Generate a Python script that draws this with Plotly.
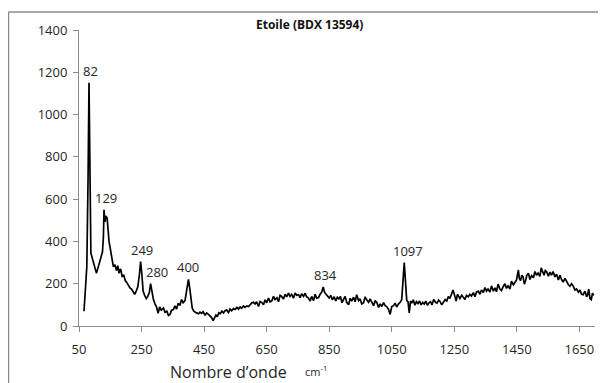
import plotly.graph_objects as go

# ---- data ----
wavenumber = [
    66, 75, 79, 82, 88, 92, 96, 101, 106, 111, 117, 121, 125, 128, 130, 133, 136, 140, 143, 146,
    149, 152, 155, 160, 165, 170, 174, 178, 183, 188, 193, 198, 203, 208, 213, 218, 223, 228, 233, 238,
    243, 247, 251, 255, 260, 265, 270, 275, 279, 283, 288, 293, 298, 303, 308, 313, 320, 325, 331, 336,
    341, 346, 352, 357, 362, 367, 373, 378, 383, 389, 393, 397, 400, 404, 408, 412, 417, 421, 426, 432,
    437, 442, 447, 453, 458, 464, 469, 474, 479, 483, 488, 492, 497, 501, 507, 512, 517, 522, 528, 533,
    538, 544, 549, 555, 560, 565, 570, 576, 581, 587, 592, 597, 603, 608, 613, 618, 624, 629, 634, 640,
    645, 650, 656, 661, 667, 672, 677, 683, 688, 693, 698, 704, 709, 714, 720, 725, 730, 736, 741, 746,
    752, 757, 762, 768, 773, 778, 784, 789, 794, 800, 805, 810, 816, 821, 826, 831, 835, 840, 845, 850,
    855, 860, 866, 871, 876, 881, 886, 891, 896, 901, 906, 912, 917, 922, 928, 933, 938, 944, 949, 954,
    960, 965, 970, 976, 981, 986, 992, 997, 1002, 1008, 1013, 1018, 1024, 1029, 1034, 1040, 1045, 1050, 1056, 1061,
    1066, 1072, 1077, 1082, 1086, 1090, 1094, 1098, 1102, 1106, 1110, 1114, 1119, 1124, 1129, 1134, 1139, 1144, 1149, 1154,
    1159, 1164, 1169, 1174, 1179, 1184, 1190, 1195, 1200, 1205, 1210, 1216, 1221, 1226, 1231, 1236, 1241, 1246, 1252, 1256,
    1260, 1264, 1268, 1274, 1279, 1284, 1289, 1295, 1300, 1305, 1311, 1316, 1321, 1327, 1332, 1337, 1343, 1348, 1353, 1358,
    1364, 1369, 1375, 1380, 1385, 1390, 1396, 1401, 1407, 1412, 1417, 1422, 1428, 1433, 1439, 1444, 1449, 1455, 1458, 1462,
    1466, 1470, 1474, 1478, 1482, 1487, 1492, 1497, 1503, 1508, 1513, 1518, 1524, 1528, 1533, 1537, 1541, 1546, 1551, 1556,
    1561, 1566, 1572, 1577, 1583, 1588, 1593, 1598, 1604, 1609, 1615, 1620, 1625, 1630, 1636, 1641, 1647, 1652, 1657, 1662,
    1668, 1673, 1676, 1680, 1684, 1688, 1692, 1696, 1700,
]
intensity = [
    70, 280, 700, 1150, 345, 320, 305, 275, 250, 280, 312, 330, 350, 420, 550, 493, 520, 510, 420, 400,
    375, 345, 330, 280, 290, 262, 285, 250, 270, 235, 240, 215, 205, 190, 180, 175, 165, 150, 165, 185,
    240, 305, 245, 165, 145, 130, 140, 160, 200, 165, 125, 105, 90, 60, 90, 75, 85, 65, 70, 50,
    55, 75, 78, 95, 80, 105, 100, 125, 110, 120, 150, 195, 220, 180, 120, 85, 70, 68, 62, 58,
    66, 60, 68, 50, 62, 55, 48, 40, 25, 35, 52, 44, 62, 58, 70, 62, 72, 76, 64, 80,
    72, 82, 78, 88, 80, 90, 84, 95, 88, 95, 92, 100, 110, 112, 104, 115, 92, 116, 112, 100,
    124, 110, 132, 114, 120, 140, 125, 134, 115, 145, 140, 128, 150, 138, 156, 140, 150, 132, 156, 145,
    148, 134, 152, 140, 155, 138, 132, 118, 140, 120, 150, 132, 135, 150, 160, 185, 160, 150, 138, 132,
    145, 124, 138, 118, 136, 128, 140, 110, 126, 140, 112, 100, 131, 118, 136, 115, 148, 120, 128, 104,
    110, 138, 124, 112, 128, 110, 96, 118, 112, 88, 105, 92, 110, 96, 92, 78, 55, 92, 96, 108,
    90, 105, 112, 125, 205, 300, 210, 120, 115, 62, 118, 108, 124, 98, 115, 106, 118, 100, 112, 104,
    118, 98, 110, 115, 100, 126, 112, 108, 122, 115, 100, 112, 125, 118, 140, 130, 148, 170, 140, 118,
    150, 142, 130, 145, 135, 125, 145, 138, 150, 142, 158, 138, 160, 165, 150, 170, 158, 182, 165, 175,
    160, 190, 165, 180, 162, 198, 175, 168, 188, 200, 178, 190, 175, 212, 195, 205, 218, 265, 225, 215,
    240, 232, 198, 215, 240, 250, 220, 238, 228, 258, 240, 250, 235, 275, 252, 240, 262, 255, 235, 255,
    240, 258, 232, 245, 218, 240, 220, 208, 225, 210, 195, 188, 200, 190, 170, 175, 160, 170, 150, 148,
    165, 138, 145, 175, 130, 125, 155, 145,
]
peak_labels = ["82", "129", "249", "280", "400", "834", "1097"]
peak_label_shift = [1, 2, 1, 6, 0, 2, 4]

x_ticks = [50, 250, 450, 650, 850, 1050, 1250, 1450, 1650]
y_ticks = [0, 200, 400, 600, 800, 1000, 1200, 1400]

chart_title = "Etoile (BDX 13594)"
x_title = "Nombre d’onde"
x_unit = "cm<sup>-1</sup>"

# ---- layout constants (pixels) ----
# the page body has an 8px margin, so the figure starts at (8, 8) in the window
OFF = 8
W, H = 606 - OFF, 383 - OFF
L, R, T, B = 79 - OFF, 11, 30 - OFF, 57
PW, PH = W - L - R, H - T - B
FONT = "Open Sans, Liberation Sans, sans-serif"
TXT = "#262626"
AX = "#8c8c8c"


def px_to_paper_x(px):
    # px is a window x-coordinate
    return (px - OFF - L) / PW


def py_to_paper_y(py):
    # py is a window y-coordinate
    return (H - B - (py - OFF)) / PH


fig = go.Figure()
fig.add_trace(go.Scatter(
    x=wavenumber, y=intensity, mode="lines",
    line=dict(color="black", width=1.7), showlegend=False,
))

annotations = []
for lab, dx in zip(peak_labels, peak_label_shift):
    target = float(lab)
    near = [(abs(w - target), w, v) for w, v in zip(wavenumber, intensity) if abs(w - target) <= 12]
    best = max(near, key=lambda t: t[2])
    annotations.append(dict(
        x=best[1], y=best[2], xref="x", yref="y", text=lab, showarrow=False,
        yanchor="bottom", xanchor="center", xshift=dx, yshift=1,
        font=dict(family=FONT, size=13, color=TXT),
    ))

annotations.append(dict(
    x=px_to_paper_x(309), y=py_to_paper_y(24), xref="paper", yref="paper",
    text="<b>" + chart_title + "</b>", showarrow=False, xanchor="center", yanchor="middle",
    font=dict(family=FONT, size=12, color="#111"),
))
annotations.append(dict(
    x=px_to_paper_x(228), y=py_to_paper_y(372), xref="paper", yref="paper",
    text=x_title, showarrow=False, xanchor="center", yanchor="middle",
    font=dict(family=FONT, size=16, color=TXT),
))
annotations.append(dict(
    x=px_to_paper_x(303), y=py_to_paper_y(371), xref="paper", yref="paper",
    text=x_unit, showarrow=False, xanchor="left", yanchor="middle",
    font=dict(family=FONT, size=11, color=TXT),
))

shapes = [
    dict(type="line", xref="paper", yref="paper",
         x0=px_to_paper_x(8.5), x1=px_to_paper_x(606), y0=py_to_paper_y(12), y1=py_to_paper_y(12),
         line=dict(color="#8a8a8a", width=1.5)),
    dict(type="line", xref="paper", yref="paper",
         x0=px_to_paper_x(8.5), x1=px_to_paper_x(8.5), y0=py_to_paper_y(12), y1=py_to_paper_y(383),
         line=dict(color="#8a8a8a", width=1.5)),
]

fig.update_layout(
    width=W, height=H,
    margin=dict(l=L, r=R, t=T, b=B, pad=0),
    paper_bgcolor="white", plot_bgcolor="white",
    annotations=annotations, shapes=shapes,
    font=dict(family=FONT, size=13, color=TXT),
)
fig.update_xaxes(
    range=[50, 1700], tickvals=x_ticks, ticktext=[str(v) for v in x_ticks],
    showgrid=False, zeroline=False, showline=True, linecolor=AX, linewidth=1,
    ticks="outside", ticklen=5, tickcolor=AX, tickwidth=1, ticklabelstandoff=6,
    tickfont=dict(family=FONT, size=13, color=TXT),
)
fig.update_yaxes(
    range=[0, 1400], tickvals=y_ticks, ticktext=[str(v) for v in y_ticks],
    showgrid=False, zeroline=False, showline=True, linecolor=AX, linewidth=1,
    ticks="outside", ticklen=5, tickcolor=AX, tickwidth=1, ticklabelstandoff=3,
    tickfont=dict(family=FONT, size=13, color=TXT),
)

fig.write_html("out.html")
